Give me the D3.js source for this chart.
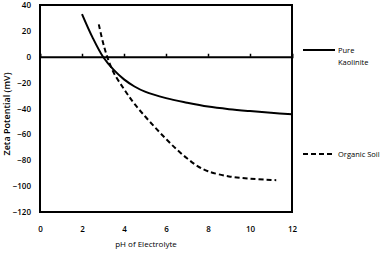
<!DOCTYPE html>
<html>
<head>
<meta charset="utf-8">
<script src="https://cdn.jsdelivr.net/npm/d3@7"></script>
<style>
  body { margin: 0; background: #fff; }
  text { font-family: "Open Sans", "DejaVu Sans", sans-serif; fill: #000; }
</style>
</head>
<body>
<div id="chart"></div>
<script>
// pH vs zeta potential, two soils
const kaoliniteData = [
  [2, 33], [2.5, 15], [3, 0], [3.5, -10], [4, -17.5], [4.5, -23], [5, -27],
  [6, -32], [7, -35.5], [8, -38.5], [9, -40.5], [10, -42], [11, -43.3], [12, -44.5]
];
const organicData = [
  [2.8, 25], [3, 11], [3.2, 0], [3.5, -12], [4, -25], [4.5, -36.5], [5, -46],
  [5.5, -55], [6, -63.5], [6.5, -71.5], [7, -78.5], [7.5, -84.5], [8, -88.5], [9, -92.5],
  [10, -94.2], [11, -95.2], [11.25, -95.4]
];
const xTicks = [0, 2, 4, 6, 8, 10, 12];
const yTicks = [40, 20, 0, -20, -40, -60, -80, -100, -120];

const W = 380, H = 254;
const margin = { top: 5, right: 88, bottom: 42, left: 40 };
const width = W - margin.left - margin.right,
      height = H - margin.top - margin.bottom;

const svg = d3.select("#chart")
  .append("svg")
    .attr("width", W)
    .attr("height", H);

const g = svg.append("g")
  .attr("transform", `translate(${margin.left},${margin.top})`);

const x = d3.scaleLinear().domain([0, 12]).range([0, width]);
const y = d3.scaleLinear().domain([-120, 40]).range([height, 0]);

// frame
g.append("rect")
  .attr("width", width)
  .attr("height", height)
  .attr("fill", "none")
  .attr("stroke", "#000")
  .attr("stroke-width", 2);

// zero line with small upward ticks
g.append("g")
  .attr("transform", `translate(0,${y(0)})`)
  .call(d3.axisTop(x).tickValues(xTicks.slice(1, -1)).tickSize(3).tickFormat(""))
  .call(a => a.select(".domain").attr("stroke-width", 2))
  .call(a => a.selectAll(".tick line").attr("stroke-width", 1.5));

// tick labels
g.append("g")
  .attr("transform", `translate(0,${height})`)
  .call(d3.axisBottom(x).tickValues(xTicks).tickSize(0).tickPadding(14))
  .call(a => a.select(".domain").remove())
  .selectAll("text")
    .attr("font-size", 8)
    .attr("font-family", "'Open Sans', sans-serif")
    .attr("font-weight", 600);

g.append("g")
  .call(d3.axisLeft(y).tickValues(yTicks).tickSize(0).tickPadding(9))
  .call(a => a.select(".domain").remove())
  .selectAll("text")
    .attr("font-size", 8)
    .attr("font-family", "'Open Sans', sans-serif")
    .attr("font-weight", 600);

const line = d3.line()
  .x(d => x(d[0]))
  .y(d => y(d[1]))
  .curve(d3.curveCatmullRom.alpha(0.5));

g.append("path")
  .datum(kaoliniteData)
  .attr("d", line)
  .attr("fill", "none")
  .attr("stroke", "#000")
  .attr("stroke-width", 2);

g.append("path")
  .datum(organicData)
  .attr("d", line)
  .attr("fill", "none")
  .attr("stroke", "#000")
  .attr("stroke-width", 2)
  .attr("stroke-dasharray", "5,3");

// axis titles
svg.append("text")
  .attr("x", 146)
  .attr("y", 247)
  .attr("text-anchor", "middle")
  .attr("font-size", 8)
  .text("pH of Electrolyte");

svg.append("text")
  .attr("transform", "translate(10,114) rotate(-90)")
  .attr("text-anchor", "middle")
  .attr("font-size", 9)
  .attr("font-weight", 600)
  .text("Zeta Potential (mV)");

// legend
const legend = svg.append("g");
legend.append("line")
  .attr("x1", 303).attr("x2", 335).attr("y1", 50).attr("y2", 50)
  .attr("stroke", "#000").attr("stroke-width", 2);
legend.append("text").attr("x", 338).attr("y", 52.5).attr("font-size", 7.5).text("Pure");
legend.append("text").attr("x", 338).attr("y", 64.5).attr("font-size", 7.5).text("Kaolinite");

legend.append("line")
  .attr("x1", 303).attr("x2", 335).attr("y1", 154).attr("y2", 154)
  .attr("stroke", "#000").attr("stroke-width", 2)
  .attr("stroke-dasharray", "5,3");
legend.append("text").attr("x", 338).attr("y", 156.5).attr("font-size", 7.5).text("Organic Soil");
</script>
</body>
</html>
